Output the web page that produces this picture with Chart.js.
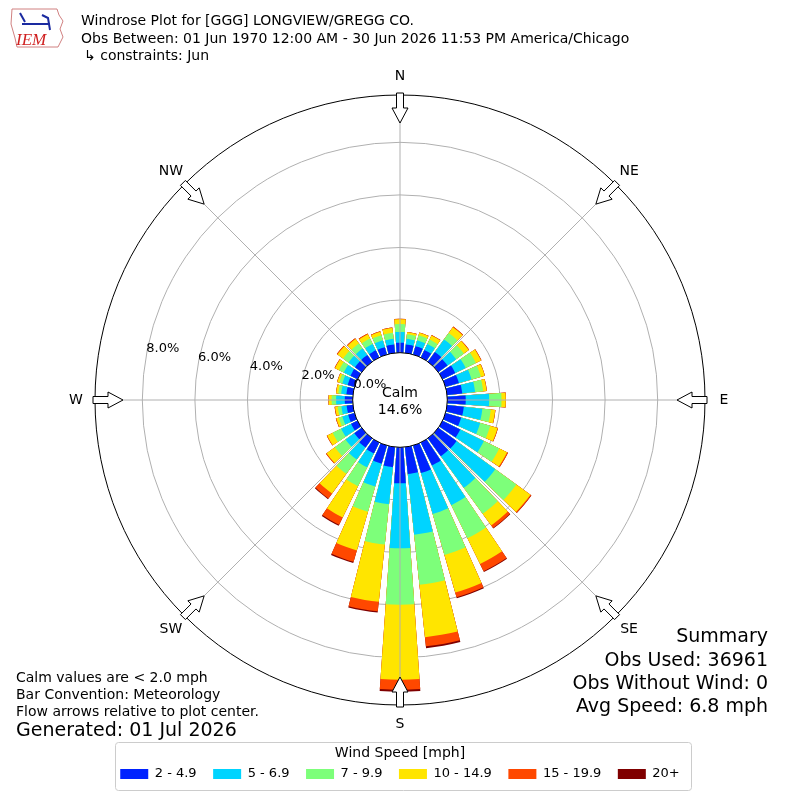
<!DOCTYPE html>
<html>
<head>
<meta charset="utf-8">
<script src="https://cdn.jsdelivr.net/npm/chart.js@4.4.1/dist/chart.umd.min.js"></script>
<style>
  html, body { margin: 0; padding: 0; background: #fff; }
</style>
</head>
<body>
<canvas id="rose" width="800" height="800"></canvas>
<script>
// wind directions, degrees clockwise from north
const directions = [0, 10, 20, 30, 40, 50, 60, 70, 80, 90, 100, 110, 120, 130, 140, 150, 160, 170,
  180, 190, 200, 210, 220, 230, 240, 250, 260, 270, 280, 290, 300, 310, 320, 330, 340, 350];
const speedBins = ['2 - 4.9', '5 - 6.9', '7 - 9.9', '10 - 14.9', '15 - 19.9', '20+'];
const binColors = ['#0022ff', '#00d4ff', '#7dff7a', '#ffe500', '#ff4800', '#800000'];

// percent of observations per direction, one list per speed bin
const pct2to5 = [0.38, 0.32, 0.33, 0.32, 0.46, 0.43, 0.54, 0.53, 0.58, 0.70, 0.64, 0.62, 0.75, 0.86, 0.84, 0.97, 1.09, 1.03,
  1.37, 0.77, 0.72, 0.46, 0.43, 0.35, 0.27, 0.25, 0.24, 0.30, 0.25, 0.27, 0.30, 0.32, 0.32, 0.30, 0.29, 0.32];
const pct5to7 = [0.41, 0.22, 0.23, 0.25, 0.59, 0.41, 0.44, 0.50, 0.49, 0.89, 0.71, 0.75, 1.00, 1.82, 1.49, 1.68, 1.62, 2.32,
  2.47, 1.42, 0.90, 0.59, 0.57, 0.41, 0.42, 0.23, 0.20, 0.33, 0.20, 0.21, 0.28, 0.30, 0.30, 0.27, 0.27, 0.22];
const pct7to10 = [0.30, 0.17, 0.20, 0.19, 0.30, 0.36, 0.43, 0.37, 0.31, 0.47, 0.32, 0.40, 0.65, 0.99, 1.22, 1.40, 1.62, 1.92,
  2.15, 1.54, 1.00, 0.80, 0.67, 0.50, 0.36, 0.14, 0.14, 0.17, 0.11, 0.12, 0.20, 0.26, 0.24, 0.23, 0.20, 0.23];
const pct10to15 = [0.18, 0.08, 0.10, 0.17, 0.27, 0.23, 0.22, 0.15, 0.13, 0.16, 0.17, 0.29, 0.33, 0.66, 0.55, 1.09, 1.49, 2.00,
  2.85, 2.19, 1.53, 1.32, 0.93, 0.39, 0.23, 0.10, 0.10, 0.11, 0.08, 0.08, 0.17, 0.26, 0.21, 0.18, 0.14, 0.18];
const pct15to20 = [0.02, 0.01, 0.01, 0.02, 0.03, 0.02, 0.02, 0.01, 0.01, 0.01, 0.01, 0.02, 0.04, 0.04, 0.12, 0.31, 0.18, 0.35,
  0.38, 0.36, 0.45, 0.31, 0.23, 0.03, 0.02, 0.02, 0.02, 0.01, 0.01, 0.01, 0.02, 0.03, 0.03, 0.03, 0.02, 0.02];
const pct20up = [0, 0, 0, 0, 0, 0, 0, 0, 0, 0, 0, 0, 0, 0.01, 0.02, 0.03, 0.04, 0.07,
  0.07, 0.05, 0.05, 0.04, 0.03, 0, 0, 0, 0, 0, 0, 0, 0, 0, 0, 0, 0, 0];

const ringTicks = [0, 2, 4, 6, 8];
const compass = ['N', 'NE', 'E', 'SE', 'S', 'SW', 'W', 'NW'];
const calmPct = 14.6;

const R_MIN = -1.8, R_MAX = 9.8;   // 0% sits on the calm circle
const BAR_DEG = 8, GAP_DEG = 2;

Chart.defaults.font.family = "'DejaVu Sans', sans-serif";
Chart.defaults.font.size = 13;
Chart.defaults.color = '#000';

// each bar gets a small gap slot after it
const labels = [];
directions.forEach(d => { labels.push(d + '°'); labels.push(''); });

const binSeries = [pct2to5, pct5to7, pct7to10, pct10to15, pct15to20, pct20up];
// stacked by drawing cumulative values, smallest on top
const datasets = binSeries.map((s, b) => {
  const data = [];
  directions.forEach((d, i) => {
    let cum = 0;
    for (let k = 0; k <= b; k++) cum += binSeries[k][i];
    data.push(+cum.toFixed(2));
    data.push(0);
  });
  return {
    label: speedBins[b],
    data: data,
    backgroundColor: ctx => ctx.dataIndex % 2 ? 'rgba(0,0,0,0)' : binColors[b],
    angle: ctx => ctx.dataIndex % 2 ? GAP_DEG : BAR_DEG,
    borderWidth: 0
  };
});

function txt(ctx, s, x, y, size, align) {
  ctx.font = size + "px 'DejaVu Sans', sans-serif";
  ctx.textAlign = align || 'left';
  ctx.textBaseline = 'middle';
  ctx.fillStyle = '#000';
  ctx.fillText(s, x, y + 2);
}

const decorations = {
  id: 'decorations',
  afterDraw(chart) {
    const ctx = chart.ctx;
    const r = chart.scales.r;
    const cx = r.xCenter, cy = r.yCenter;
    const rad = v => r.getDistanceFromCenterForValue(v);
    const pt = (deg, d) => [cx + d * Math.sin(deg * Math.PI / 180), cy - d * Math.cos(deg * Math.PI / 180)];
    const rOut = rad(R_MAX);
    const r0 = rad(0);

    ctx.save();
    // spokes
    ctx.strokeStyle = '#b0b0b0';
    ctx.lineWidth = 1;
    compass.forEach((c, i) => {
      const p = pt(i * 45, rOut);
      ctx.beginPath(); ctx.moveTo(cx, cy); ctx.lineTo(p[0], p[1]); ctx.stroke();
    });
    // calm circle
    ctx.beginPath();
    ctx.arc(cx, cy, r0, 0, Math.PI * 2);
    ctx.fillStyle = '#fff'; ctx.fill();
    ctx.strokeStyle = '#000'; ctx.stroke();
    // outer frame
    ctx.beginPath();
    ctx.arc(cx, cy, rOut, 0, Math.PI * 2);
    ctx.stroke();

    // ring labels
    ringTicks.forEach(v => {
      const p = pt(280, rad(v));
      txt(ctx, v.toFixed(1) + '%', p[0], p[1] - 9, 13, 'left');
    });
    txt(ctx, 'Calm', cx, cy - 9, 14, 'center');
    txt(ctx, calmPct.toFixed(1) + '%', cx, cy + 8, 14, 'center');

    // flow arrows and compass labels
    const shape = [[rOut + 2, -3.5], [rOut - 13, -3.5], [rOut - 13, -8], [rOut - 28, 0],
      [rOut - 13, 8], [rOut - 13, 3.5], [rOut + 2, 3.5]];
    compass.forEach((c, i) => {
      const a = i * 45 * Math.PI / 180;
      const ux = Math.sin(a), uy = -Math.cos(a), px = Math.cos(a), py = Math.sin(a);
      ctx.beginPath();
      shape.forEach(([s, t], k) => {
        const x = cx + ux * s + px * t, y = cy + uy * s + py * t;
        k ? ctx.lineTo(x, y) : ctx.moveTo(x, y);
      });
      ctx.closePath();
      ctx.fillStyle = '#fff'; ctx.fill();
      ctx.strokeStyle = '#000'; ctx.lineWidth = 1; ctx.stroke();
      const q = pt(i * 45, rOut + 19);
      txt(ctx, c, q[0], q[1] - 2, 14, 'center');
    });

    // header
    txt(ctx, 'Windrose Plot for [GGG] LONGVIEW/GREGG CO.', 81, 19, 14);
    txt(ctx, 'Obs Between: 01 Jun 1970 12:00 AM - 30 Jun 2026 11:53 PM America/Chicago', 81, 37, 14);
    txt(ctx, '\u21b3 constraints: Jun', 84, 54, 14);

    // logo
    ctx.strokeStyle = '#d08080'; ctx.lineWidth = 1;
    ctx.beginPath();
    [[12, 9], [57, 9], [59, 15], [63, 21], [60, 29], [63, 37], [58, 47], [17, 47], [15, 38], [11, 24], [12, 9]]
      .forEach(([x, y], k) => k ? ctx.lineTo(x, y) : ctx.moveTo(x, y));
    ctx.stroke();
    ctx.strokeStyle = '#1a2aa0'; ctx.lineWidth = 2;
    ctx.beginPath(); ctx.moveTo(22, 24); ctx.lineTo(50, 24); ctx.stroke();
    ctx.beginPath(); ctx.moveTo(20, 13); ctx.lineTo(25, 22); ctx.stroke();
    ctx.beginPath(); ctx.moveTo(42, 15); ctx.lineTo(48, 18); ctx.lineTo(50, 30); ctx.stroke();
    ctx.font = "italic 17px 'Liberation Serif', serif";
    ctx.fillStyle = '#d02020'; ctx.textAlign = 'left'; ctx.textBaseline = 'alphabetic';
    ctx.fillText('IEM', 16, 45);

    // notes
    txt(ctx, 'Calm values are < 2.0 mph', 16, 676, 14);
    txt(ctx, 'Bar Convention: Meteorology', 16, 693, 14);
    txt(ctx, 'Flow arrows relative to plot center.', 16, 710, 14);
    txt(ctx, 'Generated: 01 Jul 2026', 16, 729, 19);

    txt(ctx, 'Summary', 768, 635, 19, 'right');
    txt(ctx, 'Obs Used: 36961', 768, 659, 19, 'right');
    txt(ctx, 'Obs Without Wind: 0', 768, 682, 19, 'right');
    txt(ctx, 'Avg Speed: 6.8 mph', 768, 705, 19, 'right');

    // legend frame
    const lg = chart.legend;
    if (lg && lg.legendHitBoxes.length) {
      const hb = lg.legendHitBoxes;
      const x0 = Math.min(...hb.map(h => h.left)) - 5;
      const x1 = Math.max(...hb.map(h => h.left + h.width)) + 11;
      ctx.strokeStyle = '#cccccc'; ctx.lineWidth = 1;
      ctx.beginPath();
      ctx.roundRect(Math.round(x0) + 0.5, Math.round(lg.top) + 0.5, Math.round(x1 - x0), Math.round(lg.bottom - lg.top) - 1, 3);
      ctx.stroke();
    }
    ctx.restore();
  }
};

new Chart(document.getElementById('rose'), {
  type: 'polarArea',
  data: { labels: labels, datasets: datasets },
  options: {
    responsive: false,
    animation: false,
    events: [],
    layout: { padding: { top: 59, left: 95, right: 95, bottom: 9.5 } },
    scales: {
      r: {
        min: R_MIN,
        max: R_MAX,
        startAngle: -BAR_DEG / 2,
        z: 1,
        ticks: { display: false },
        afterBuildTicks: s => { s.ticks = ringTicks.map(v => ({ value: v })); },
        grid: { color: '#b0b0b0', lineWidth: 1, circular: true },
        angleLines: { display: false },
        pointLabels: { display: false }
      }
    },
    plugins: {
      tooltip: { enabled: false },
      legend: {
        position: 'bottom',
        title: { display: true, text: 'Wind Speed [mph]', font: { size: 14 }, padding: { top: 4, bottom: -11.8 } },
        labels: {
          boxWidth: 28,
          boxHeight: 10,
          padding: 16.5,
          font: { size: 13 },
          generateLabels: () => speedBins.map((b, i) => ({
            text: b, fillStyle: binColors[i], strokeStyle: binColors[i], lineWidth: 0, hidden: false, datasetIndex: i
          }))
        }
      }
    }
  },
  plugins: [decorations]
});
</script>
</body>
</html>
